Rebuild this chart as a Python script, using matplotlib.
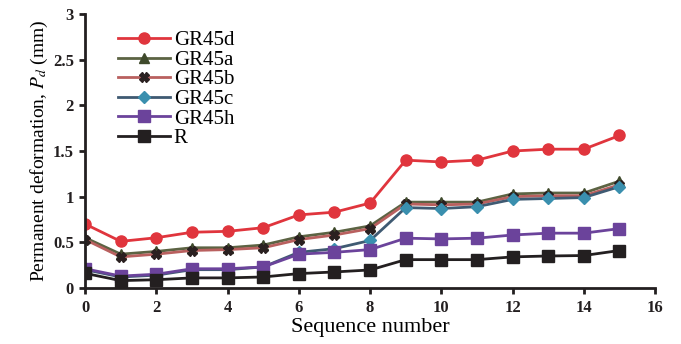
import matplotlib
matplotlib.use("Agg")
import matplotlib.pyplot as plt

seq = list(range(16))

gr45d = [0.70, 0.51, 0.55, 0.61, 0.62, 0.66, 0.80, 0.83, 0.93, 1.40, 1.38, 1.40, 1.50, 1.52, 1.52, 1.67]
gr45a = [0.55, 0.37, 0.40, 0.44, 0.44, 0.47, 0.56, 0.61, 0.68, 0.94, 0.94, 0.94, 1.03, 1.04, 1.04, 1.17]
gr45b = [0.53, 0.34, 0.37, 0.41, 0.42, 0.44, 0.53, 0.58, 0.65, 0.92, 0.91, 0.92, 1.00, 1.01, 1.01, 1.13]
gr45c = [0.20, 0.12, 0.14, 0.20, 0.20, 0.23, 0.39, 0.43, 0.52, 0.88, 0.87, 0.89, 0.97, 0.98, 0.99, 1.11]
gr45h = [0.21, 0.13, 0.15, 0.21, 0.21, 0.23, 0.37, 0.39, 0.42, 0.545, 0.537, 0.545, 0.58, 0.60, 0.60, 0.65]
ref_r = [0.16, 0.08, 0.09, 0.11, 0.11, 0.12, 0.157, 0.175, 0.197, 0.31, 0.31, 0.31, 0.34, 0.35, 0.355, 0.41]

series = [
    ("GR45d", gr45d, "#e0353d", "o", "#e0353d", 8),
    ("GR45a", gr45a, "#5c6343", "^", "#3f4a2c", 7),
    ("GR45b", gr45b, "#b9605f", "X", "#2a2020", 7),
    ("GR45c", gr45c, "#3f5a72", "D", "#3a8fae", 6),
    ("GR45h", gr45h, "#6b439b", "s", "#6b439b", 8),
    ("R", ref_r, "#231f20", "s", "#231f20", 8),
]

plt.rcParams["font.family"] = ["Liberation Serif", "DejaVu Serif"]
plt.rcParams["mathtext.fontset"] = "stix"

fig = plt.figure(figsize=(6.81, 3.44), dpi=100)
ax = fig.add_axes([0.125, 0.163, 0.837, 0.796])

for name, vals, color, marker, mcolor, ms in series:
    ax.plot(seq, vals, color=color, linewidth=2.0, marker=marker, markersize=ms,
            markerfacecolor=mcolor, markeredgecolor=mcolor, label=name)

ax.set_xlim(0, 16)
ax.set_ylim(0, 3)
ax.set_xticks(range(0, 17, 2))
ax.set_yticks([0, 0.5, 1, 1.5, 2, 2.5, 3])
ax.set_yticklabels(["0", "0.5", "1", "1.5", "2", "2.5", "3"])

for side in ("top", "right"):
    ax.spines[side].set_visible(False)
for side in ("left", "bottom"):
    ax.spines[side].set_linewidth(2.0)
    ax.spines[side].set_color("#231f20")

ax.tick_params(direction="out", length=4, width=2, colors="#231f20", labelsize=12)
ax.tick_params(axis="x", pad=5)
ax.tick_params(axis="y", pad=4)
for lab in ax.get_xticklabels() + ax.get_yticklabels():
    lab.set_fontweight("bold")

ax.set_xlabel("Sequence number", fontsize=16, labelpad=1)
ax.set_ylabel("Permanent deformation, $P_d$ (mm)", fontsize=14, labelpad=2)

ax.legend(loc="upper left", bbox_to_anchor=(0.035, 0.985), frameon=False,
          fontsize=15, handlelength=2.5, handletextpad=0.2,
          labelspacing=0.0, borderaxespad=0.2)

fig.savefig("out.png", dpi=100)
